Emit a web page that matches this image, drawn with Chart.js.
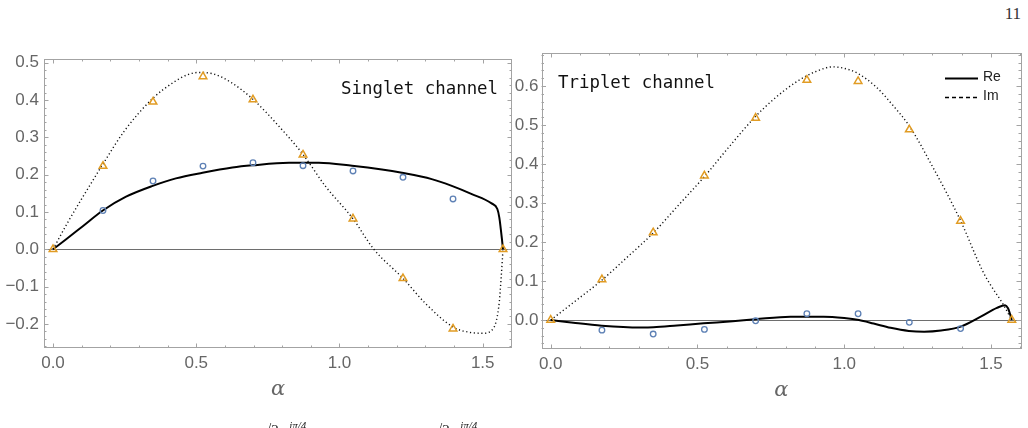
<!DOCTYPE html>
<html>
<head>
<meta charset="utf-8">
<script src="https://cdn.jsdelivr.net/npm/chart.js@4.4.1/dist/chart.umd.min.js"></script>
<style>
  html, body { margin: 0; padding: 0; background: #fff; }
  body { width: 1028px; height: 428px; position: relative; overflow: hidden; }
  .panel { position: absolute; top: 0; height: 428px; }
  #left  { left: 0;     width: 520px; }
  #right { left: 500px; width: 528px; }
  .tag { position: absolute; font-family: 'DejaVu Sans Mono', monospace; font-size: 17.4px; color: #111; line-height: 1; white-space: pre; }
  .page { position: absolute; right: 7px; top: 4px; font-family: 'Liberation Serif', serif; font-size: 17px; color: #333; }
  .cap { position: absolute; top: 419px; font-family: 'Liberation Serif', serif; font-size: 15px; color: #222; white-space: pre; }
  .cap sup { font-size: 11px; font-style: italic; }
</style>
</head>
<body>
<div class="page">11</div>
<div class="panel" id="left"><canvas id="singletChart"></canvas></div>
<div class="panel" id="right"><canvas id="tripletChart"></canvas></div>
<div class="tag" style="left:341px; top:80px">Singlet channel</div>
<div class="tag" style="left:558px; top:74px">Triplet channel</div>
<div class="cap" style="left:263px">√2 e<sup>iπ/4</sup>   · ·</div>
<div class="cap" style="left:434px">√2 e<sup>iπ/4</sup>   · ·</div>

<script>
// ── α sampling of the markers (10° steps) ─────────────────────
const ALPHA_PTS = [0, 0.1745, 0.3491, 0.5236, 0.6981, 0.8727, 1.0472, 1.2217, 1.3963, 1.5708];

// ── Singlet channel ───────────────────────────────────────────
const S_RE_PTS = [null, 0.104, 0.183, 0.223, 0.232, 0.224, 0.210, 0.193, 0.135, null];
const S_IM_PTS = [0, 0.223, 0.395, 0.463, 0.401, 0.253, 0.082, -0.078, -0.213, 0];

const S_RE_A = [0, 0.046, 0.104, 0.174, 0.255, 0.348, 0.429, 0.522, 0.626, 0.696, 0.824, 0.928, 1.044, 1.148, 1.218, 1.322, 1.392, 1.462, 1.531, 1.551, 1.558, 1.563, 1.567, 1.5708];
const S_RE   = [0, 0.027, 0.062, 0.104, 0.141, 0.170, 0.190, 0.205, 0.219, 0.225, 0.232, 0.232, 0.224, 0.214, 0.205, 0.188, 0.170, 0.148, 0.123, 0.108, 0.085, 0.055, 0.028, 0];

const S_IM_A = [0, 0.05, 0.10, 0.174, 0.25, 0.349, 0.42, 0.47, 0.51, 0.56, 0.62, 0.698, 0.80, 0.873, 0.95, 1.047, 1.12, 1.222, 1.30, 1.396, 1.45, 1.50, 1.53, 1.548, 1.558, 1.564, 1.5708];
const S_IM   = [0, 0.070, 0.135, 0.228, 0.318, 0.405, 0.447, 0.468, 0.474, 0.470, 0.448, 0.402, 0.320, 0.254, 0.170, 0.082, 0.000, -0.078, -0.145, -0.208, -0.222, -0.225, -0.218, -0.190, -0.140, -0.080, 0];

// ── Triplet channel ───────────────────────────────────────────
const T_RE_PTS = [null, -0.026, -0.036, -0.024, -0.002, 0.016, 0.016, -0.006, -0.022, null];
const T_IM_PTS = [0, 0.104, 0.224, 0.370, 0.518, 0.615, 0.612, 0.488, 0.254, 0];

const T_RE_A = [0, 0.077, 0.174, 0.305, 0.35, 0.43, 0.521, 0.62, 0.697, 0.817, 0.93, 1.00, 1.05, 1.10, 1.158, 1.22, 1.272, 1.33, 1.397, 1.465, 1.52, 1.548, 1.558, 1.565, 1.5708];
const T_RE   = [0, -0.007, -0.0145, -0.019, -0.0185, -0.014, -0.0085, -0.003, 0.002, 0.0085, 0.0085, 0.005, 0.0, -0.009, -0.020, -0.028, -0.030, -0.027, -0.017, 0.0085, 0.031, 0.038, 0.030, 0.015, 0];

const T_IM_A = [0, 0.088, 0.174, 0.262, 0.349, 0.436, 0.524, 0.611, 0.698, 0.769, 0.84, 0.90, 0.961, 1.02, 1.047, 1.108, 1.165, 1.222, 1.301, 1.396, 1.47, 1.495, 1.54, 1.5708];
const T_IM   = [0, 0.051, 0.102, 0.162, 0.223, 0.295, 0.368, 0.447, 0.522, 0.572, 0.612, 0.636, 0.649, 0.641, 0.632, 0.598, 0.551, 0.497, 0.393, 0.255, 0.128, 0.094, 0.042, 0];

// ── ticks ─────────────────────────────────────────────────────
const X_TICKS   = [0, 0.5, 1.0, 1.5];
const Y_TICKS_S = [-0.2, -0.1, 0, 0.1, 0.2, 0.3, 0.4, 0.5];
const Y_TICKS_T = [0, 0.1, 0.2, 0.3, 0.4, 0.5, 0.6];

const BLUE   = '#5E81B5';
const ORANGE = '#E19C24';
const FRAME  = '#a3a3a3';
const LABEL  = '#666666';

Chart.defaults.font.family = "'Liberation Sans', Arial, sans-serif";

const zip = (xs, ys) => xs.map((x, i) => ({ x, y: ys[i] }));

// frame with inward ticks on all four sides + zero line
const framePlugin = {
  id: 'frame',
  beforeDatasetsDraw(chart) {
    const { ctx, chartArea: a, scales: { x, y } } = chart;
    ctx.save();
    ctx.lineWidth = 1;

    ctx.strokeStyle = '#6e6e6e';
    const y0 = Math.round(y.getPixelForValue(0)) + 0.5;
    ctx.beginPath(); ctx.moveTo(a.left, y0); ctx.lineTo(a.right, y0); ctx.stroke();

    ctx.strokeStyle = FRAME;
    ctx.strokeRect(Math.round(a.left) + 0.5, Math.round(a.top) + 0.5,
                   Math.round(a.width) - 1, Math.round(a.height) - 1);

    ctx.beginPath();
    for (let i = 0; i <= 16; i++) {
      const v = i / 10;
      if (v < x.min || v > x.max) continue;
      const len = i % 5 === 0 ? 4.5 : 2.5;
      const px = Math.round(x.getPixelForValue(v)) + 0.5;
      ctx.moveTo(px, a.bottom); ctx.lineTo(px, a.bottom - len);
      ctx.moveTo(px, a.top);    ctx.lineTo(px, a.top + len);
    }
    for (let i = -20; i <= 40; i++) {
      const v = i / 50;
      if (v < y.min || v > y.max) continue;
      const len = i % 5 === 0 ? 4.5 : 2.5;
      const py = Math.round(y.getPixelForValue(v)) + 0.5;
      ctx.moveTo(a.left, py);  ctx.lineTo(a.left + len, py);
      ctx.moveTo(a.right, py); ctx.lineTo(a.right - len, py);
    }
    ctx.stroke();
    ctx.restore();
  },
  afterDraw(chart, args, opts) {
    if (!opts.legend) return;
    const { ctx, chartArea: a } = chart;
    const x0 = a.right - 76, x1 = a.right - 43;
    const rows = [
      { text: 'Re', y: 78.5, dash: [] },
      { text: 'Im', y: 97.5, dash: [4, 3] },
    ];
    ctx.save();
    rows.forEach(r => {
      ctx.strokeStyle = '#000';
      ctx.lineWidth = r.dash.length ? 1.4 : 2;
      ctx.setLineDash(r.dash);
      ctx.beginPath(); ctx.moveTo(x0, r.y); ctx.lineTo(x1, r.y); ctx.stroke();
      ctx.setLineDash([]);
      ctx.fillStyle = '#222';
      ctx.font = "14px 'Liberation Sans', Arial, sans-serif";
      ctx.textBaseline = 'middle';
      ctx.fillText(r.text, x1 + 5, r.y - 1);
    });
    ctx.restore();
  },
};

function buildChart(id, cfg) {
  return new Chart(document.getElementById(id), {
    type: 'scatter',
    data: {
      datasets: [
        {
          label: 'Re pts', data: zip(ALPHA_PTS, cfg.rePts), order: 1,
          pointStyle: 'circle', pointRadius: 2.8, borderWidth: 1.3,
          borderColor: BLUE, backgroundColor: 'rgba(0,0,0,0)',
        },
        {
          label: 'Im pts', data: zip(ALPHA_PTS, cfg.imPts), order: 0,
          pointStyle: 'triangle', pointRadius: 4.4, borderWidth: 1.5,
          borderColor: ORANGE, backgroundColor: 'rgba(0,0,0,0)',
        },
        {
          label: 'Re', data: zip(cfg.reA, cfg.re), order: 2,
          showLine: true, pointRadius: 0, borderColor: '#000', borderWidth: 2,
          cubicInterpolationMode: 'monotone',
        },
        {
          label: 'Im', data: zip(cfg.imA, cfg.im), order: 3,
          showLine: true, pointRadius: 0, borderColor: '#111', borderWidth: 1.4,
          borderDash: [1.2, 2.6], cubicInterpolationMode: 'monotone',
        },
      ],
    },
    options: {
      responsive: true, maintainAspectRatio: false, animation: false,
      layout: { padding: cfg.padding },
      plugins: {
        legend: { display: false },
        tooltip: { enabled: false },
        frame: { legend: cfg.legend },
      },
      scales: {
        x: {
          type: 'linear', min: -0.0314, max: 1.6022,
          afterBuildTicks: s => { s.ticks = X_TICKS.map(v => ({ value: v })); },
          afterFit: s => { s.height = 60; },
          grid: { display: false, drawTicks: false }, border: { display: false },
          ticks: { padding: 5, color: LABEL, font: { size: 17 }, callback: v => v.toFixed(1) },
          title: {
            display: true, text: 'α', color: LABEL,
            font: { size: 21, style: 'italic', family: "'DejaVu Serif', serif" },
            padding: { top: 0, bottom: 6 },
          },
        },
        y: {
          type: 'linear', min: cfg.yMin, max: cfg.yMax,
          afterBuildTicks: s => { s.ticks = cfg.yTicks.map(v => ({ value: v })); },
          afterFit: s => { s.width = cfg.yWidth; },
          grid: { display: false, drawTicks: false }, border: { display: false },
          ticks: {
            padding: cfg.yPad, color: LABEL, font: { size: 17 },
            callback: v => (v < 0 ? '−' : '') + Math.abs(v).toFixed(1),
          },
        },
      },
    },
    plugins: [framePlugin],
  });
}

buildChart('singletChart', {
  rePts: S_RE_PTS, imPts: S_IM_PTS,
  reA: S_RE_A, re: S_RE, imA: S_IM_A, im: S_IM,
  yMin: -0.2645, yMax: 0.51, yTicks: Y_TICKS_S,
  yWidth: 44, yPad: 5,
  padding: { left: 0, right: 8, top: 59, bottom: 20 },
  legend: false,
});

buildChart('tripletChart', {
  rePts: T_RE_PTS, imPts: T_IM_PTS,
  reA: T_RE_A, re: T_RE, imA: T_IM_A, im: T_IM,
  yMin: -0.0743, yMax: 0.6845, yTicks: Y_TICKS_T,
  yWidth: 41.5, yPad: 3,
  padding: { left: 0, right: 7, top: 53, bottom: 19 },
  legend: true,
});
</script>
</body>
</html>
